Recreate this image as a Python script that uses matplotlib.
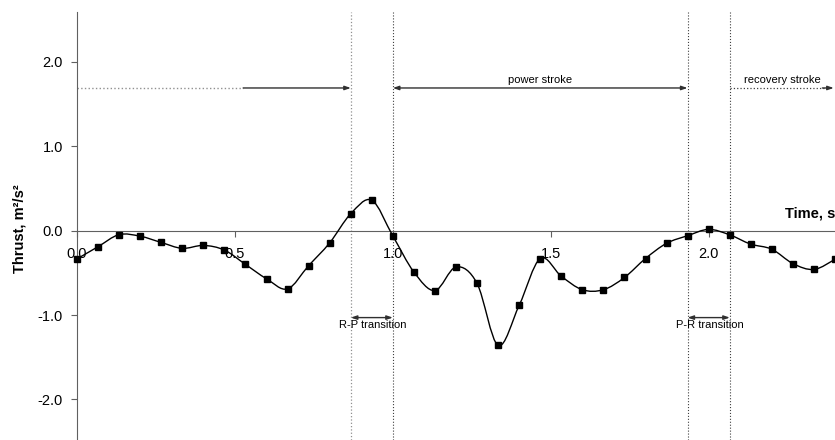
import numpy as np
import matplotlib
matplotlib.use("Agg")
import matplotlib.pyplot as plt
from matplotlib.path import Path
from matplotlib.patches import PathPatch

plt.rcParams['font.family'] = ['Liberation Sans', 'DejaVu Sans']

# frames at 15 fps
time = np.arange(37) / 15.0
thrust = [-0.335, -0.19, -0.047, -0.066, -0.14, -0.21, -0.175, -0.23, -0.40, -0.57,
          -0.69, -0.415, -0.145, 0.20, 0.36, -0.063, -0.49, -0.71, -0.43, -0.625,
          -1.36, -0.885, -0.33, -0.54, -0.70, -0.70, -0.555, -0.33, -0.15, -0.06,
          0.015, -0.05, -0.16, -0.22, -0.39, -0.46, -0.34]

# phase boundaries (s)
rp_start, rp_end = 0.867, 1.0
pr_start, pr_end = 1.933, 2.067

xticks = [0.0, 0.5, 1.0, 1.5, 2.0]
yticks = [-2.0, -1.0, 0.0, 1.0, 2.0]

fig = plt.figure(figsize=(8.35, 4.4), dpi=100)
ax = fig.add_axes([77 / 835, 0.0, 1 - 77 / 835, 1 - 12 / 440])
ax.set_xlim(0, 2.4)
ax.set_ylim(-2.48, 2.59)

axis_col = '#606060'
for s in ['top', 'right']:
    ax.spines[s].set_visible(False)
ax.spines['left'].set_color(axis_col)
ax.spines['bottom'].set_position(('data', 0))
ax.spines['bottom'].set_color(axis_col)

ax.set_xticks(xticks)
ax.set_xticklabels(['%.1f' % v for v in xticks])
ax.set_yticks(yticks)
ax.set_yticklabels(['%.1f' % v for v in yticks])
ax.tick_params(axis='x', direction='out', length=4, color=axis_col, pad=8, labelsize=10.5)
ax.tick_params(axis='y', direction='out', length=4, color=axis_col, pad=6, labelsize=10.5)

# smoothed line (Catmull-Rom as Bezier), like Excel's smoothed lines
x = np.asarray(time)
y = np.asarray(thrust)
verts = [(x[0], y[0])]
codes = [Path.MOVETO]
n = len(x)
for i in range(n - 1):
    p0 = np.array([x[max(i - 1, 0)], y[max(i - 1, 0)]])
    p1 = np.array([x[i], y[i]])
    p2 = np.array([x[i + 1], y[i + 1]])
    p3 = np.array([x[min(i + 2, n - 1)], y[min(i + 2, n - 1)]])
    c1 = p1 + (p2 - p0) / 6
    c2 = p2 - (p3 - p1) / 6
    verts += [tuple(c1), tuple(c2), tuple(p2)]
    codes += [Path.CURVE4] * 3
ax.add_patch(PathPatch(Path(verts, codes), fill=False, lw=1.0, ec='black', zorder=3))
ax.plot(time, thrust, ls='none', marker='s', ms=5, color='black', zorder=4, clip_on=False)

# phase boundaries
ax.axvline(rp_start, color='#909090', ls=':', lw=0.9, zorder=1)
for b in [rp_end, pr_start, pr_end]:
    ax.axvline(b, color='#404040', ls=':', lw=0.8, zorder=1)

ya = 1.69
arr = 'head_length=0.35,head_width=0.12'
head = dict(color='#303030', lw=1.0, shrinkA=0, shrinkB=0)
# recovery stroke (end of previous cycle)
ax.plot([0, 0.526], [ya, ya], color='#909090', ls=':', lw=1.0)
ax.annotate('', xy=(rp_start, ya), xytext=(0.526, ya),
            arrowprops=dict(arrowstyle='-|>,' + arr, **head))
# power stroke
ax.annotate('', xy=(pr_start, ya), xytext=(rp_end, ya),
            arrowprops=dict(arrowstyle='<|-|>,' + arr, **head))
ax.text((rp_end + pr_start) / 2, ya + 0.04, 'power stroke', ha='center', va='bottom', fontsize=8)
# recovery stroke
ax.plot([pr_end, 2.37], [ya, ya], color='#404040', ls=':', lw=0.9)
ax.annotate('', xy=(2.396, ya), xytext=(2.36, ya),
            arrowprops=dict(arrowstyle='-|>,' + arr, **head))
ax.text(2.234, ya + 0.04, 'recovery stroke', ha='center', va='bottom', fontsize=8)

# transitions
yt = -1.03
ax.annotate('', xy=(rp_end, yt), xytext=(rp_start, yt),
            arrowprops=dict(arrowstyle='<|-|>,' + arr, **head))
ax.text(0.935, yt - 0.03, 'R-P transition', ha='center', va='top', fontsize=8)
ax.annotate('', xy=(pr_end, yt), xytext=(pr_start, yt),
            arrowprops=dict(arrowstyle='<|-|>,' + arr, **head))
ax.text(2.003, yt - 0.03, 'P-R transition', ha='center', va='top', fontsize=8)

# axis titles
ax.text(1.0, 0.12, 'Time, s', transform=ax.get_yaxis_transform(), ha='right', va='bottom',
        fontsize=10.5, fontweight='bold')
fig.text(20 / 835, 1 - 229 / 440, 'Thrust, m²/s²', rotation=90, ha='center', va='center',
         fontsize=10.5, fontweight='bold')

fig.savefig('out.png', dpi=100)
